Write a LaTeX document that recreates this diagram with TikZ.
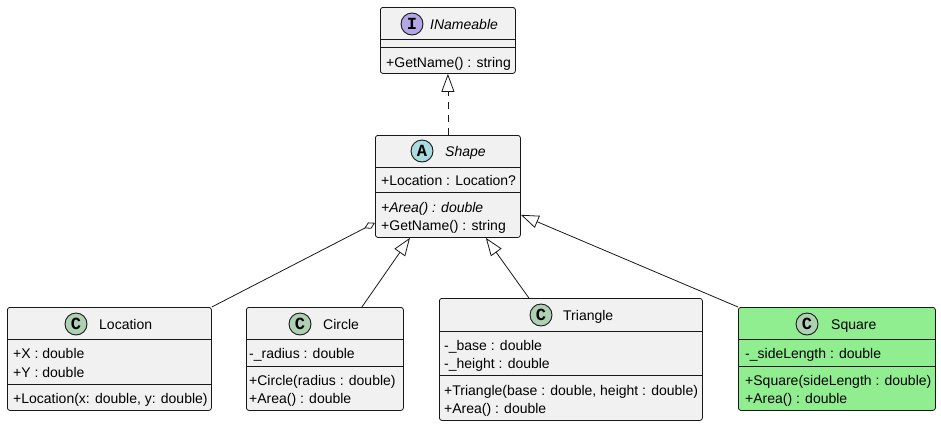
\documentclass[tikz,border=0pt]{standalone}
\usepackage{fontspec}
\setmainfont{Liberation Sans}
\setmonofont{Liberation Mono}
\usetikzlibrary{arrows.meta}
\definecolor{boxfill}{HTML}{F1F1F1}
\definecolor{boxline}{HTML}{181818}
\definecolor{iicon}{HTML}{B4A7E5}
\definecolor{aicon}{HTML}{A9DCDF}
\definecolor{cicon}{HTML}{ADD1B2}
\definecolor{sqfill}{HTML}{90EE90}
\begin{document}
\begin{tikzpicture}[x=1pt,y=-1pt,
  classbox/.style={draw=boxline, fill=boxfill, rounded corners=2.5pt, line width=0.8pt, inner sep=0pt, anchor=north west},
  sepline/.style={draw=boxline, line width=0.8pt},
  mem/.style={anchor=base west, inner sep=0pt, font=\fontsize{14}{16}\selectfont},
  ttl/.style={anchor=base west, inner sep=0pt, font=\fontsize{14}{16}\selectfont},
  icon/.style={circle, draw=boxline, line width=0.9pt, minimum size=22pt, inner sep=0pt, font=\ttfamily\bfseries\fontsize{17}{17}\selectfont},
  conn/.style={draw=boxline, line width=0.8pt},
  realize/.style={conn, -{Triangle[open, length=18pt, width=13pt]}},
  agg/.style={conn, -{Diamond[open, length=12pt, width=7pt]}}
]
\useasboundingbox (0,0) rectangle (941,426);

% INameable
\node[classbox, minimum width=135pt, minimum height=66pt] (iname) at (380,7) {};
\draw[sepline] (380,39) -- (515,39);
\draw[sepline] (380,47) -- (515,47);
\node[icon, fill=iicon] (inameicon) at (412,24) {I};
\node[ttl] (inamettl) at (430,29) {\itshape INameable};
\node[mem] (inamem1) at (386,67) {+GetName() : string};

% Shape
\node[classbox, minimum width=145pt, minimum height=102pt] (shape) at (375,135) {};
\draw[sepline] (375,167) -- (520,167);
\draw[sepline] (375,192) -- (520,192);
\node[icon, fill=aicon] (shapeicon) at (422,151) {A};
\node[ttl] (shapettl) at (445,156) {\itshape Shape};
\node[mem] (shapea1) at (381,185) {+Location : Location?};
\node[mem] (shapem1) at (381,212) {\itshape +Area() : double};
\node[mem] (shapem2) at (381,230) {+GetName() : string};

% Location
\node[classbox, minimum width=204pt, minimum height=103pt] (loc) at (7,307) {};
\draw[sepline] (7,339) -- (211,339);
\draw[sepline] (7,384) -- (211,384);
\node[icon, fill=cicon] (locicon) at (76,324) {C};
\node[ttl] (locttl) at (99,329) {Location};
\node[mem] (loca1) at (13,358) {+X : double};
\node[mem] (loca2) at (13,377) {+Y : double};
\node[mem] (locm1) at (13,403) {+Location(x: double, y: double)};

% Circle
\node[classbox, minimum width=157pt, minimum height=103pt] (circ) at (246,307) {};
\draw[sepline] (246,339) -- (403,339);
\draw[sepline] (246,366) -- (403,366);
\node[icon, fill=cicon] (circicon) at (300,324) {C};
\node[ttl] (circttl) at (323,329) {Circle};
\node[mem] (circa1) at (249,358) {-\_radius : double};
\node[mem] (circm1) at (249,385) {+Circle(radius : double)};
\node[mem] (circm2) at (249,403) {+Area() : double};

% Triangle
\node[classbox, minimum width=263pt, minimum height=122pt] (tri) at (439,298) {};
\draw[sepline] (439,331) -- (702,331);
\draw[sepline] (439,375) -- (702,375);
\node[icon, fill=cicon] (triicon) at (541,315) {C};
\node[ttl] (trittl) at (563,320) {Triangle};
\node[mem] (tria1) at (444,350) {-\_base : double};
\node[mem] (tria2) at (444,368) {-\_height : double};
\node[mem] (trim1) at (444,395) {+Triangle(base : double, height : double)};
\node[mem] (trim2) at (444,413) {+Area() : double};

% Square
\node[classbox, fill=sqfill, minimum width=197pt, minimum height=103pt] (sq) at (738,307) {};
\draw[sepline] (738,339) -- (935,339);
\draw[sepline] (738,366) -- (935,366);
\node[icon, fill=cicon] (sqicon) at (807,324) {C};
\node[ttl] (sqttl) at (831,329) {Square};
\node[mem] (sqa1) at (745,358) {-\_sideLength : double};
\node[mem] (sqm1) at (745,385) {+Square(sideLength : double)};
\node[mem] (sqm2) at (745,403) {+Area() : double};

% Connectors
\draw[realize, dash pattern=on 7pt off 6pt] (shape.north) -- (iname.south);
\draw[agg] (loc.north east) -- ([yshift=15pt]shape.south west);
\draw[realize] ([xshift=37pt]circ.north) -- ([xshift=35pt]shape.south west);
\draw[realize] ([xshift=-42pt]tri.north) -- ([xshift=-35pt]shape.south east);
\draw[realize] (sq.north west) -- ([yshift=23pt]shape.south east);
\end{tikzpicture}
\end{document}
